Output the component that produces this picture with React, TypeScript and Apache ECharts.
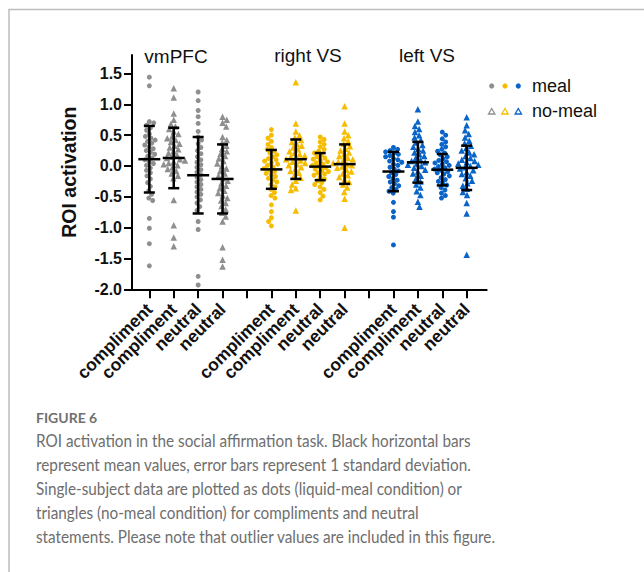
import React, { useEffect, useRef } from 'react';
import * as echarts from 'echarts';

// ---------- data ----------
const categoryLabels = [
  'compliment', 'compliment', 'neutral', 'neutral', '',
  'compliment', 'compliment', 'neutral', 'neutral', '',
  'compliment', 'compliment', 'neutral', 'neutral',
];
const columnPositions = [1, 2, 3, 4, 6, 7, 8, 9, 11, 12, 13, 14];
const regionTitles = ['vmPFC', 'right VS', 'left VS'];
const legendLabels = ['meal', 'no-meal'];
const yTickValues = [-2, -1.5, -1, -0.5, 0, 0.5, 1, 1.5];
const yAxisName = 'ROI activation';

const vmPFC_compliment_meal = [1.44, 1.30, 0.72, 0.70, 0.66, 0.62, 0.58, 0.52, 0.48, 0.45, 0.42, 0.40, 0.37, 0.34, 0.31, 0.28, 0.25, 0.22, 0.19, 0.16, 0.13, 0.10, 0.07, 0.04, 0.01, -0.03, -0.07, -0.11, -0.16, -0.21, -0.27, -0.33, -0.40, -0.46, -0.52, -0.56, -0.85, -1.01, -1.26, -1.62];
const vmPFC_compliment_nomeal = [1.26, 1.11, 0.85, 0.75, 0.68, 0.64, 0.60, 0.56, 0.52, 0.48, 0.45, 0.42, 0.39, 0.36, 0.33, 0.30, 0.27, 0.24, 0.21, 0.18, 0.15, 0.13, 0.11, 0.09, 0.07, 0.05, 0.03, 0.01, -0.02, -0.05, -0.08, -0.12, -0.16, -0.20, -0.55, -0.96, -1.16, -1.30];
const vmPFC_neutral_meal = [1.20, 1.06, 0.90, 0.80, 0.69, 0.56, 0.47, 0.42, 0.36, 0.30, 0.25, 0.20, 0.15, 0.10, 0.06, 0.02, -0.02, -0.06, -0.10, -0.14, -0.18, -0.22, -0.26, -0.30, -0.34, -0.38, -0.42, -0.46, -0.50, -0.55, -0.60, -0.66, -0.72, -0.90, -1.03, -1.79, -1.93];
const vmPFC_neutral_nomeal = [0.80, 0.75, 0.70, 0.64, 0.47, 0.42, 0.38, 0.33, 0.28, 0.24, 0.20, 0.16, 0.12, 0.08, 0.04, 0.00, -0.04, -0.08, -0.12, -0.16, -0.20, -0.24, -0.28, -0.32, -0.36, -0.40, -0.44, -0.48, -0.52, -0.56, -0.60, -0.65, -0.70, -0.76, -0.82, -0.90, -1.32, -1.52, -1.63];
const rightVS_compliment_meal = [0.59, 0.50, 0.45, 0.40, 0.35, 0.30, 0.27, 0.24, 0.21, 0.18, 0.15, 0.12, 0.10, 0.08, 0.05, 0.03, 0.01, -0.02, -0.04, -0.07, -0.09, -0.12, -0.14, -0.17, -0.20, -0.23, -0.26, -0.30, -0.34, -0.38, -0.43, -0.48, -0.52, -0.63, -0.74, -0.84, -0.90, -0.97];
const rightVS_compliment_nomeal = [1.36, 0.69, 0.56, 0.50, 0.46, 0.42, 0.39, 0.36, 0.33, 0.30, 0.27, 0.24, 0.21, 0.19, 0.17, 0.15, 0.13, 0.11, 0.09, 0.07, 0.05, 0.03, 0.01, -0.02, -0.05, -0.08, -0.11, -0.15, -0.19, -0.24, -0.30, -0.36, -0.39, -0.72];
const rightVS_neutral_meal = [0.47, 0.43, 0.39, 0.35, 0.31, 0.27, 0.24, 0.21, 0.18, 0.15, 0.13, 0.11, 0.09, 0.07, 0.05, 0.03, 0.01, -0.01, -0.03, -0.05, -0.07, -0.09, -0.11, -0.13, -0.15, -0.18, -0.21, -0.24, -0.27, -0.30, -0.34, -0.38, -0.43, -0.49, -0.55];
const rightVS_neutral_nomeal = [0.97, 0.69, 0.56, 0.50, 0.45, 0.40, 0.36, 0.32, 0.28, 0.25, 0.22, 0.19, 0.16, 0.13, 0.11, 0.09, 0.07, 0.05, 0.03, 0.01, -0.01, -0.03, -0.06, -0.09, -0.12, -0.15, -0.18, -0.22, -0.26, -0.30, -0.35, -0.42, -0.53, -1.00];
const leftVS_compliment_meal = [0.30, 0.27, 0.25, 0.23, 0.21, 0.19, 0.17, 0.15, 0.12, 0.10, 0.08, 0.06, 0.03, 0.01, -0.02, -0.05, -0.08, -0.11, -0.14, -0.17, -0.20, -0.23, -0.26, -0.29, -0.32, -0.35, -0.38, -0.41, -0.44, -0.59, -0.74, -0.83, -1.28];
const leftVS_compliment_nomeal = [0.92, 0.72, 0.65, 0.60, 0.55, 0.50, 0.46, 0.42, 0.38, 0.34, 0.31, 0.28, 0.25, 0.22, 0.19, 0.16, 0.13, 0.10, 0.08, 0.06, 0.04, 0.02, 0.00, -0.03, -0.06, -0.09, -0.12, -0.16, -0.20, -0.25, -0.30, -0.35, -0.41, -0.47, -0.58, -0.66];
const leftVS_neutral_meal = [0.55, 0.50, 0.44, 0.39, 0.35, 0.31, 0.27, 0.24, 0.21, 0.18, 0.15, 0.12, 0.09, 0.07, 0.05, 0.03, 0.01, -0.01, -0.03, -0.05, -0.07, -0.09, -0.11, -0.13, -0.16, -0.19, -0.22, -0.25, -0.28, -0.31, -0.35, -0.39, -0.44, -0.48, -0.52];
const leftVS_neutral_nomeal = [0.79, 0.66, 0.58, 0.52, 0.46, 0.41, 0.37, 0.33, 0.29, 0.25, 0.22, 0.19, 0.16, 0.13, 0.10, 0.08, 0.06, 0.04, 0.02, 0.00, -0.02, -0.04, -0.07, -0.10, -0.13, -0.16, -0.20, -0.24, -0.28, -0.32, -0.37, -0.42, -0.47, -0.60, -0.77, -1.44];

const columnValues = [
  vmPFC_compliment_meal, vmPFC_compliment_nomeal, vmPFC_neutral_meal, vmPFC_neutral_nomeal,
  rightVS_compliment_meal, rightVS_compliment_nomeal, rightVS_neutral_meal, rightVS_neutral_nomeal,
  leftVS_compliment_meal, leftVS_compliment_nomeal, leftVS_neutral_meal, leftVS_neutral_nomeal,
];
const columnMeans = [0.11, 0.13, -0.15, -0.21, -0.055, 0.11, -0.01, 0.03, -0.09, 0.06, -0.06, -0.03];
const columnSDs = [0.54, 0.49, 0.62, 0.56, 0.315, 0.32, 0.22, 0.32, 0.32, 0.33, 0.255, 0.36];

const captionHead = 'FIGURE 6';
const captionLines = [
  'ROI activation in the social affirmation task. Black horizontal bars',
  'represent mean values, error bars represent 1 standard deviation.',
  'Single-subject data are plotted as dots (liquid-meal condition) or',
  'triangles (no-meal condition) for compliments and neutral',
  'statements. Please note that outlier values are included in this figure.',
];

// ---------- styling ----------
const regionColors = ['#8f8f8f', '#f6bd00', '#0a64c8'];
const FONT = "'Liberation Sans', Arial, Helvetica, sans-serif";
const CAPTION_FONT = "Lato, 'Open Sans', sans-serif";
const PX_PER_X = 24.42;
const PX_PER_Y = 61.66;
const X_MIN = 0.29;
const X_MAX = 14.82;

function swarmOffsets(values: number[], diameter: number): number[] {
  const order = values.map((v, i) => ({ v, i })).sort((a, b) => b.v - a.v);
  const placed: { x: number; y: number }[] = [];
  const out = new Array(values.length).fill(0);
  let flip = 1;
  for (const { v, i } of order) {
    const y = v * PX_PER_Y;
    const near = placed.filter((p) => Math.abs(p.y - y) < diameter);
    const cands: number[] = [0];
    for (const p of near) {
      const dx = Math.sqrt(diameter * diameter - (p.y - y) ** 2);
      cands.push(p.x + dx, p.x - dx);
    }
    cands.sort((a, b) => Math.abs(a) - Math.abs(b) || (a - b) * flip);
    let x = 0;
    for (const c of cands) {
      if (near.every((p) => (p.x - c) ** 2 + (p.y - y) ** 2 >= diameter * diameter - 1e-6)) {
        x = c;
        break;
      }
    }
    flip = -flip;
    placed.push({ x, y });
    out[i] = x / PX_PER_X;
  }
  return out;
}

export default function App() {
  const ref = useRef<HTMLDivElement>(null);

  useEffect(() => {
    if (!ref.current) return;
    const chart = echarts.init(ref.current, null, { renderer: 'svg' });

    const scatterSeries = columnValues.map((vals, k) => {
      const region = Math.floor(k / 4);
      const isMeal = k % 2 === 0;
      const offs = swarmOffsets(vals, isMeal ? 4.6 : 5.2);
      return {
        type: 'scatter',
        name: `${regionTitles[region]} ${categoryLabels[columnPositions[k] - 1]} ${isMeal ? legendLabels[0] : legendLabels[1]}`,
        symbol: isMeal ? 'circle' : 'triangle',
        symbolSize: isMeal ? 5 : 6.5,
        itemStyle: { color: regionColors[region], opacity: 1 },
        data: vals.map((v, j) => [columnPositions[k] + offs[j], v]),
        z: 2,
        silent: true,
      };
    });

    const errorSeries = {
      type: 'custom',
      name: 'mean ± SD',
      z: 10,
      silent: true,
      encode: { x: 0, y: 1 },
      data: columnPositions.map((p, k) => [p, columnMeans[k], columnSDs[k]]),
      renderItem: (_params: any, api: any) => {
        const x = api.value(0);
        const m = api.value(1);
        const s = api.value(2);
        const c = api.coord([x, m]);
        const top = api.coord([x, m + s]);
        const bot = api.coord([x, m - s]);
        const style = { stroke: '#000', lineWidth: 2.5, fill: null };
        return {
          type: 'group',
          children: [
            { type: 'line', shape: { x1: c[0], y1: top[1], x2: c[0], y2: bot[1] }, style },
            { type: 'line', shape: { x1: c[0] - 5.5, y1: top[1], x2: c[0] + 5.5, y2: top[1] }, style },
            { type: 'line', shape: { x1: c[0] - 5.5, y1: bot[1], x2: c[0] + 5.5, y2: bot[1] }, style },
            { type: 'line', shape: { x1: c[0] - 11, y1: c[1], x2: c[0] + 11, y2: c[1] }, style },
          ],
        };
      },
    };

    const titleCenters = [[176, 56], [308, 55], [427, 55]];
    const legendXs = [491.7, 505, 518.3];

    const graphic: any[] = [
      {
        type: 'polyline',
        silent: true,
        shape: { points: [[9, 700], [9, 9.5], [700, 9.5]] },
        style: { stroke: '#bdbdbd', lineWidth: 1.5, fill: null },
      },
      ...regionTitles.map((t, i) => ({
        type: 'text',
        x: titleCenters[i][0],
        y: titleCenters[i][1],
        style: {
          text: t, fontSize: 19, fontFamily: FONT, fill: '#111',
          textAlign: 'center', textVerticalAlign: 'middle', align: 'center', verticalAlign: 'middle',
        },
      })),
      ...legendXs.map((x, i) => ({
        type: 'circle',
        shape: { cx: x, cy: 86, r: 2.6 },
        style: { fill: regionColors[i] },
      })),
      ...legendXs.map((x, i) => ({
        type: 'polygon',
        shape: { points: [[x - 3.2, 114], [x + 3.2, 114], [x, 108.5]] },
        style: { fill: '#fff', stroke: regionColors[i], lineWidth: 1.3 },
      })),
      ...legendLabels.map((t, i) => ({
        type: 'text',
        x: 532,
        y: i === 0 ? 86 : 110.5,
        style: {
          text: t, fontSize: 18, fontFamily: FONT, fill: '#111',
          textAlign: 'left', textVerticalAlign: 'middle', align: 'left', verticalAlign: 'middle',
        },
      })),
      {
        type: 'text',
        x: 36,
        y: 417,
        style: {
          text: captionHead, fontSize: 14, fontWeight: 'bold', fontFamily: CAPTION_FONT, fill: '#707070',
          textAlign: 'left', textVerticalAlign: 'middle', align: 'left', verticalAlign: 'middle',
        },
      },
      ...captionLines.map((t, i) => ({
        type: 'text',
        x: 36,
        y: 440 + i * 24,
        scaleX: 0.9,
        style: {
          text: t, fontSize: 17, fontFamily: CAPTION_FONT, fill: '#6e6e6e',
          textAlign: 'left', textVerticalAlign: 'middle', align: 'left', verticalAlign: 'middle',
        },
      })),
    ];

    const option: any = {
      animation: false,
      backgroundColor: '#fff',
      grid: { left: 132, right: 157.3, top: 55, bottom: 282.7, containLabel: false },
      xAxis: [
        {
          type: 'value',
          position: 'bottom',
          min: X_MIN,
          max: X_MAX,
          splitLine: { show: false },
          axisLine: { show: true, onZero: false, lineStyle: { color: '#000', width: 2 } },
          axisTick: {
            show: true, length: 9, lineStyle: { color: '#000', width: 2 },
            customValues: categoryLabels.map((_, i) => i + 1),
          },
          axisLabel: { show: false },
        },
        {
          // label-only axis sharing the same scale; end sentinels absorb min/max label handling
          type: 'value',
          position: 'bottom',
          min: X_MIN,
          max: X_MAX,
          splitLine: { show: false },
          axisLine: { show: false, onZero: false },
          axisTick: { show: false },
          axisLabel: {
            show: true,
            rotate: 45,
            margin: 17,
            fontSize: 17.5,
            fontWeight: 'bold',
            fontFamily: FONT,
            color: '#111',
            showMinLabel: false,
            showMaxLabel: false,
            hideOverlap: false,
            customValues: [X_MIN, ...columnPositions, X_MAX],
            formatter: (v: number) => (Number.isInteger(v) ? categoryLabels[v - 1] || '' : ''),
          },
        },
      ],
      yAxis: {
        type: 'value',
        min: -2,
        max: 1.8,
        name: yAxisName,
        nameLocation: 'middle',
        nameGap: 53,
        nameTextStyle: { fontSize: 19.5, fontWeight: 'bold', fontFamily: FONT, color: '#111' },
        splitLine: { show: false },
        axisLine: { show: true, onZero: false, lineStyle: { color: '#000', width: 2 } },
        axisTick: { show: true, length: 8, lineStyle: { color: '#000', width: 2 }, customValues: yTickValues },
        axisLabel: {
          show: true,
          margin: 10,
          fontSize: 16,
          fontWeight: 'bold',
          fontFamily: FONT,
          color: '#111',
          showMinLabel: true,
          showMaxLabel: true,
          customValues: yTickValues,
          formatter: (v: number) => v.toFixed(1),
        },
      },
      series: [...scatterSeries, errorSeries],
      graphic,
    };

    chart.setOption(option);
    return () => chart.dispose();
  }, []);

  return (
    <div
      ref={ref}
      style={{ position: 'absolute', left: 0, top: 0, width: 644, height: 572, background: '#fff' }}
    />
  );
}
